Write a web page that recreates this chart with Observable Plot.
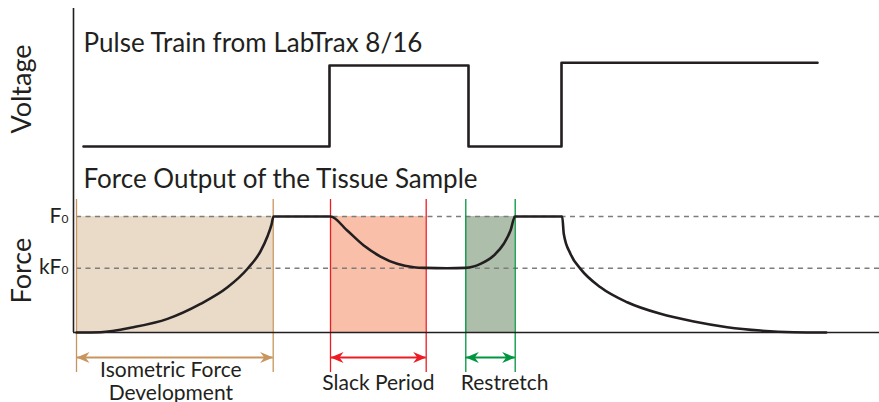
<!DOCTYPE html>
<html><head><meta charset="utf-8">
<script src="https://cdn.jsdelivr.net/npm/d3@7"></script>
<script src="https://cdn.jsdelivr.net/npm/@observablehq/plot@0.6"></script>
<style>
html,body{margin:0;padding:0;background:#fff}
#chart svg{display:block}
</style></head><body><div id="chart"></div>
<script>
// ---- data (time in arbitrary units, force in units of F0, voltage in volts) ----
const pulseTime  = [0.7, 25.3, 39.2, 48.5, 74.1];
const pulseVolt  = [0,   5,    0,    5.17, 5.17];

const forceTime  = [0, 2.4, 5.7, 9.1, 12.4, 15.1, 17.1, 18.4, 19.1, 19.5, 19.7,
                    25.4, 27.07, 28.73, 30.4, 32.07, 33.73, 34.9, 37.07, 38.9,
                    40.4, 41.73, 42.73, 43.4, 43.85,
                    48.57, 48.73, 49.4, 50.4, 52.4, 55.07, 58.4, 61.73, 65.07, 68.4, 71.73, 74.97];
const forceValue = [0, 0.003, 0.046, 0.118, 0.247, 0.39, 0.55, 0.70, 0.83, 0.93, 1.0,
                    1.0, 0.879, 0.75, 0.655, 0.592, 0.563, 0.557, 0.554, 0.557,
                    0.592, 0.664, 0.765, 0.879, 1.0,
                    1.0, 0.85, 0.678, 0.549, 0.39, 0.261, 0.161, 0.095, 0.046, 0.017, 0.003, 0];

const regionNames = ["Isometric Force\nDevelopment", "Slack Period", "Restretch"];
const regionStart = [0, 25.4, 38.93];
const regionEnd   = [19.67, 34.97, 43.87];

const levelNames  = ["F", "kF"];
const levelValues = [1, 0.554];

const panelTitles = ["Pulse Train from LabTrax 8/16", "Force Output of the Tissue Sample"];
const axisLabels  = ["Voltage", "Force"];

// ---- styling / layout ----
const INK = "#231f20";
const fills = ["#e9dbc8", "#f9bfa8", "#adbfab"];
const lines = ["#c8955e", "#ed1c24", "#00953f"];
const FONT = "Lato";
const V_BASE = 1.603, V_PER_VOLT = 0.1397;   // voltage panel placed above the force panel
const toY = v => V_BASE + v * V_PER_VOLT;

const pulse = pulseTime.map((t, i) => ({t, y: toY(pulseVolt[i])}));
const force = forceTime.map((t, i) => ({t, f: forceValue[i]}));
const regions = regionNames.map((name, i) => ({name, x1: regionStart[i], x2: regionEnd[i], fill: fills[i], line: lines[i]}));
const levels = levelNames.map((name, i) => ({name, y: levelValues[i]}));

const ARROW_Y = -0.2155;
const arrowHead = {draw(ctx) { ctx.moveTo(0, 0); ctx.lineTo(-13, -5.5); ctx.lineTo(-9, 0); ctx.lineTo(-13, 5.5); ctx.closePath(); }};
const heads = regions.flatMap(r => [{x: r.x1, rot: 180, c: r.line}, {x: r.x2, rot: 0, c: r.line}]);

const xMin = -0.3, xMax = 80.3;

const chart = Plot.plot({
  width: 879, height: 402,
  marginTop: 0, marginBottom: 0, marginRight: 0, marginLeft: 73,
  x: {domain: [xMin, xMax], axis: null},
  y: {domain: [-0.603, 2.862], axis: null},
  style: {fontFamily: FONT, color: INK, background: "#fff"},
  marks: [
    // shaded phases
    Plot.rect(regions, {x1: "x1", x2: "x2", y1: 0, y2: 1, fill: d => d.fill}),
    // reference levels
    Plot.ruleY(levels, {y: "y", x1: 0, x2: xMax, stroke: "#7d7d7d", strokeWidth: 1.3, strokeDasharray: "5,4.5"}),
    // phase boundaries
    Plot.ruleX(regions, {x: "x1", y1: -0.345, y2: 1.147, stroke: d => d.line, strokeWidth: 1.3}),
    Plot.ruleX(regions, {x: "x2", y1: -0.345, y2: 1.147, stroke: d => d.line, strokeWidth: 1.3}),
    // axes
    Plot.ruleX([xMin], {y1: 0, y2: 2.793, stroke: INK, strokeWidth: 1.6}),
    Plot.ruleY([0], {x1: xMin, x2: xMax, stroke: INK, strokeWidth: 1.6}),
    // signals
    Plot.line(pulse, {x: "t", y: "y", curve: "step-after", stroke: INK, strokeWidth: 2.6}),
    Plot.line(force, {x: "t", y: "f", curve: "monotone-x", stroke: INK, strokeWidth: 2.6}),
    // double arrows
    Plot.ruleY(regions, {y: ARROW_Y, x1: "x1", x2: "x2", stroke: d => d.line, strokeWidth: 2}),
    Plot.dot(heads, {x: "x", y: ARROW_Y, symbol: arrowHead, rotate: "rot", fill: d => d.c, stroke: "none", r: 6}),
    // phase labels
    Plot.text(regions.slice(0, 1), {x: d => (d.x1 + d.x2) / 2, y: -0.582, text: "name", dx: -4, fontSize: 21, lineAnchor: "bottom", lineHeight: 1.12, fill: INK}),
    Plot.text(regions.slice(1, 2), {x: d => (d.x1 + d.x2) / 2, y: -0.491, text: "name", fontSize: 21, lineAnchor: "bottom", fill: INK}),
    Plot.text(regions.slice(2, 3), {x: "x1", y: -0.491, text: "name", dx: -5, textAnchor: "start", fontSize: 21, lineAnchor: "bottom", fill: INK}),
    // level labels
    Plot.text(levels, {x: xMin, y: "y", text: "name", dx: -12, dy: 6, textAnchor: "end", lineAnchor: "bottom", fontSize: 21, fill: INK}),
    Plot.text(levels, {x: xMin, y: "y", text: () => "0", dx: -12, dy: 6, textAnchor: "start", lineAnchor: "bottom", fontSize: 12, fill: INK}),
    // panel titles
    Plot.text(panelTitles, {x: pulseTime[0], y: [2.414, 1.25], text: d => d, textAnchor: "start", lineAnchor: "bottom", fontSize: 26, fill: INK}),
    // axis titles
    Plot.text(axisLabels, {x: xMin, y: [2.099, 0.534], text: d => d, dx: -51, rotate: -90, fontSize: 27, fill: INK})
  ]
});
document.getElementById("chart").append(chart);
</script>
</body></html>
